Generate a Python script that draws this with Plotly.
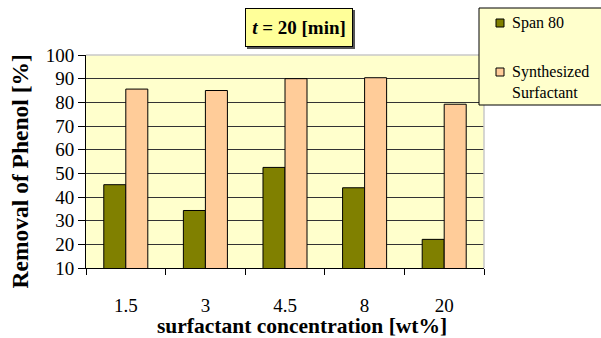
import plotly.graph_objects as go

# Phenol removal after 20 minutes, by surfactant concentration
concentrations = ["1.5", "3", "4.5", "8", "20"]
span80 = [45.2, 34.3, 52.5, 43.9, 22.1]
synthesized = [85.6, 85.0, 90.0, 90.4, 79.2]

series_names = ["Span 80", "Synthesized<br>Surfactant"]
series_colors = ["#808000", "#FFCC99"]

serif = "Liberation Serif"

# plotting area in pixels: x 86..484, y 55..268
L, R, T, B = 86, 484, 55, 268
W, H = 601, 338


def px(x):
    return (x - L) / (R - L)


def py(y):
    return (B - y) / (B - T)


fig = go.Figure()
for name, vals, col in zip(series_names, [span80, synthesized], series_colors):
    fig.add_trace(go.Bar(
        x=concentrations, y=vals, name=name,
        marker=dict(color=col, line=dict(color="black", width=1)),
    ))

fig.update_layout(
    width=W, height=H,
    margin=dict(l=L, r=W - R, t=T, b=H - B, autoexpand=False),
    paper_bgcolor="white",
    plot_bgcolor="#FFFFCC",
    barmode="group",
    bargap=0.447,
    bargroupgap=0,
    font=dict(family=serif, color="black", size=19),
    showlegend=False,
)

fig.update_xaxes(
    type="category",
    showline=True, linecolor="black", linewidth=1,
    ticks="outside", tickson="boundaries", ticklen=6, tickcolor="black",
    ticklabelstandoff=20,
    tickfont=dict(family=serif, size=19, color="black"),
    showgrid=False,
)
fig.update_yaxes(
    range=[10, 100], dtick=10,
    showline=True, linecolor="black", linewidth=1,
    ticks="outside", ticklen=7, tickcolor="black",
    tickfont=dict(family=serif, size=19, color="black"),
    showgrid=True, gridcolor="#333333", gridwidth=1,
    zeroline=False,
)

# axis titles
fig.add_annotation(
    text="<b>surfactant concentration [wt%]</b>",
    xref="paper", yref="paper", x=px(302), y=py(326),
    xanchor="center", yanchor="middle", showarrow=False,
    font=dict(family=serif, size=21.5, color="black"),
)
fig.add_annotation(
    text="<b>Removal of Phenol [%]</b>",
    xref="paper", yref="paper", x=px(19), y=py(171.5),
    xanchor="center", yanchor="middle", showarrow=False, textangle=-90,
    font=dict(family=serif, size=23.5, color="black"),
)

# light frame on the top and right sides of the plotting area
fig.add_shape(type="line", xref="paper", yref="paper", x0=0, x1=1, y0=1, y1=1,
              line=dict(color="#C8C8C8", width=1.5))
fig.add_shape(type="line", xref="paper", yref="paper", x0=1, x1=1, y0=0, y1=1,
              line=dict(color="#C8C8C8", width=1.5))

# shadow behind the time label
fig.add_shape(type="rect", xref="paper", yref="paper",
              x0=px(247), x1=px(355), y0=py(49), y1=py(10),
              fillcolor="#555555", line=dict(width=0), layer="above")

fig.add_annotation(
    text="<b><i>t</i> = 20 [min]</b>",
    xref="paper", yref="paper", x=px(299), y=py(27.5),
    xanchor="center", yanchor="middle", showarrow=False,
    font=dict(family=serif, size=19, color="black"),
    bgcolor="#FFFF99", bordercolor="black", borderwidth=1,
    width=104, height=35, borderpad=1,
)

# legend box
fig.add_shape(type="rect", xref="paper", yref="paper",
              x0=px(479), x1=px(610), y0=py(105), y1=py(8),
              fillcolor="#FFFFCC", line=dict(color="black", width=1), layer="above")
legend_rows = [23, 72]
for name, col, yc in zip(series_names, series_colors, legend_rows):
    fig.add_shape(type="rect", xref="paper", yref="paper",
                  x0=px(496), x1=px(504), y0=py(yc + 4), y1=py(yc - 4),
                  fillcolor=col, line=dict(color="black", width=1), layer="above")
    fig.add_annotation(
        text=name, xref="paper", yref="paper", x=px(510), y=py(yc - 11),
        xanchor="left", yanchor="top", align="left", showarrow=False,
        font=dict(family=serif, size=16, color="black"),
    )

fig.write_html("out.html")
